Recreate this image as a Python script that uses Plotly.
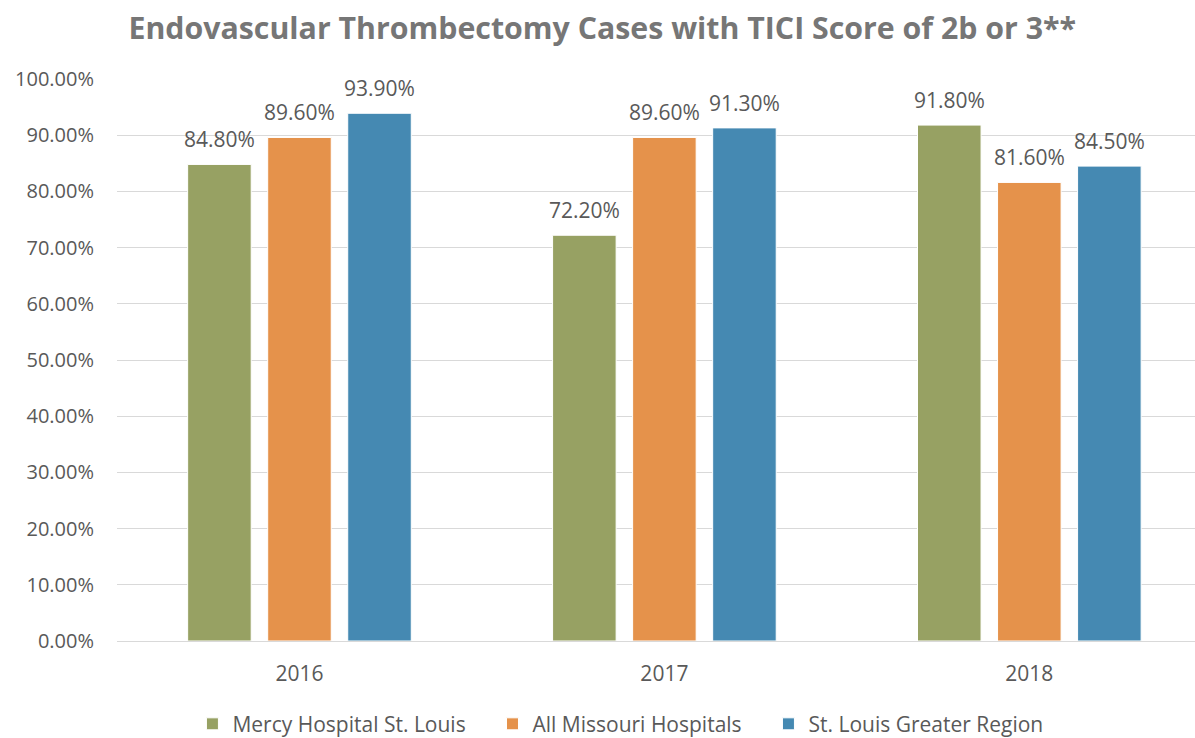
import plotly.graph_objects as go

years = ["2016", "2017", "2018"]
mercy = [84.8, 72.2, 91.8]
missouri = [89.6, 89.6, 81.6]
stl_region = [93.9, 91.3, 84.5]

series = [
    ("Mercy Hospital St. Louis", mercy, "#97A163"),
    ("All Missouri Hospitals", missouri, "#E5924B"),
    ("St. Louis Greater Region", stl_region, "#4589B2"),
]

font_family = "Open Sans, Liberation Sans, sans-serif"
grey = "#595959"
slot_px = 80  # horizontal distance between neighbouring bars in a group
legend_pad = "\u00a0" * 4  # extra room between legend entries

fig = go.Figure()
annotations = []
for i, (name, vals, color) in enumerate(series):
    fig.add_trace(go.Bar(
        x=years,
        y=vals,
        name=name + (legend_pad if i < len(series) - 1 else ""),
        marker=dict(color=color, line=dict(color="white", width=1)),
    ))
    # value labels floating above each bar (category index used for x,
    # since numeric-looking category names are read as positions)
    for j, v in enumerate(vals):
        annotations.append(dict(
            x=j, y=v, xref="x", yref="y",
            text=f"{v:.2f}%",
            showarrow=False,
            xshift=(i - 1) * slot_px,
            yshift=25,
            yanchor="middle",
            font=dict(size=21, color=grey, family=font_family),
        ))

fig.update_layout(
    width=1195,
    height=738,
    margin=dict(l=117, r=0, t=79, b=97, autoexpand=False),
    paper_bgcolor="white",
    plot_bgcolor="white",
    barmode="group",
    bargap=0.342,
    bargroupgap=0.206,
    annotations=annotations,
    title=dict(
        text="<b>Endovascular Thrombectomy Cases with TICI Score of 2b or 3**</b>",
        x=0.504,
        xanchor="center",
        y=0.962,
        yanchor="middle",
        font=dict(size=30.3, color="#767676", family=font_family),
    ),
    font=dict(family=font_family, color=grey, size=20),
    legend=dict(
        orientation="h",
        x=0.467,
        xanchor="center",
        y=-0.148,
        yanchor="middle",
        font=dict(size=21, color=grey),
        itemwidth=30,
        traceorder="normal",
    ),
)

fig.update_xaxes(
    type="category",
    range=[-0.5, 2.454],
    showline=True,
    linecolor="#D9D9D9",
    linewidth=1,
    ticks="",
    tickfont=dict(size=21, color=grey),
    ticklabelstandoff=14,
)
fig.update_yaxes(
    range=[0, 100],
    dtick=10,
    tickformat=".2f",
    ticksuffix="%",
    showgrid=True,
    gridcolor="#D9D9D9",
    gridwidth=1,
    zeroline=False,
    ticks="",
    tickfont=dict(size=20, color=grey),
    ticklabelstandoff=22,
)

fig.write_html("out.html")
